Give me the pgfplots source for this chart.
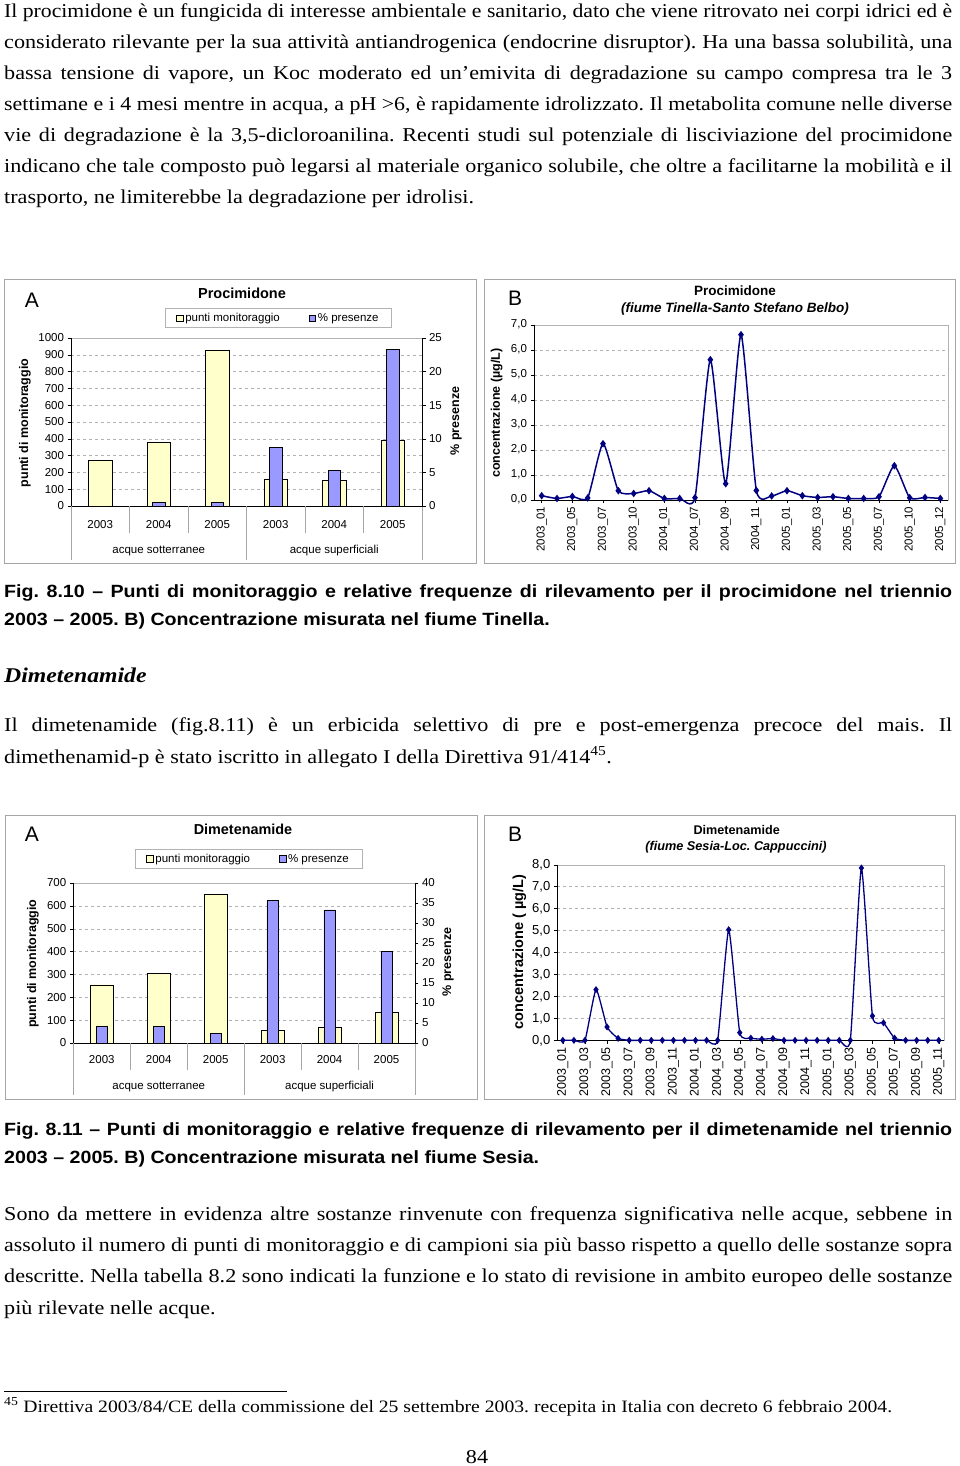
\documentclass[border=0pt]{standalone}
\usepackage{fontspec}
\setmainfont{Liberation Serif}
\setsansfont{Liberation Sans}
\renewcommand{\familydefault}{\sfdefault}
\newfontfamily\bodyfont{Liberation Serif}[FakeStretch=1.13]
\newfontfamily\capfont{Liberation Sans}[FakeStretch=1.11]
\usepackage{graphicx}
\usepackage{pgfplots}
\pgfplotsset{compat=1.18}

\definecolor{byellow}{HTML}{FFFFCC}
\definecolor{bblue}{HTML}{9999FF}
\definecolor{navy}{HTML}{000080}

\newcommand\fs[1]{\fontsize{#1}{#1}\selectfont}
\newsavebox\jbox
\newcommand\jline[1]{\sbox\jbox{#1}\ifdim\wd\jbox>948pt\resizebox{948pt}{\height}{\usebox\jbox}\else\makebox[948pt][s]{#1}\fi}

\pgfplotsset{
  chartbase/.style={scale only axis, clip=false, anchor=south west,
    tick align=outside, major tick length=3.5pt, tick style={black, thin},
    axis line style={gray!60},
    /pgf/number format/assume math mode=true, /pgf/number format/1000 sep={},
    grid style={dashed, gray!60}},
  sqlegend/.style={legend image code/.code={\draw[##1] (0pt,-3.3pt) rectangle (6.6pt,3.3pt);}},
}

\begin{document}
\frenchspacing
\begin{tikzpicture}
\useasboundingbox (0,0) rectangle (960pt,-1466pt);
\fill[white] (0,0) rectangle (960pt,-1466pt);

% ---------- paragraph 1
\begin{scope}[every node/.style={anchor=base west, inner sep=0pt}]
\node at (4pt,-17.3pt) {\bodyfont\fs{19.6}\jline{Il procimidone è un fungicida di interesse ambientale e sanitario, dato che viene ritrovato nei corpi idrici ed è}};
\node at (4pt,-48.3pt) {\bodyfont\fs{19.6}\jline{considerato rilevante per la sua attività antiandrogenica (endocrine disruptor). Ha una bassa solubilità, una}};
\node at (4pt,-79.3pt) {\bodyfont\fs{19.6}\jline{bassa tensione di vapore, un Koc moderato ed un’emivita di degradazione su campo compresa tra le 3}};
\node at (4pt,-110.3pt) {\bodyfont\fs{19.6}\jline{settimane e i 4 mesi mentre in acqua, a pH >6, è rapidamente idrolizzato. Il metabolita comune nelle diverse}};
\node at (4pt,-141.3pt) {\bodyfont\fs{19.6}\jline{vie di degradazione è la 3,5-dicloroanilina. Recenti studi sul potenziale di lisciviazione del procimidone}};
\node at (4pt,-172.3pt) {\bodyfont\fs{19.6}\jline{indicano che tale composto può legarsi al materiale organico solubile, che oltre a facilitarne la mobilità e il}};
\node at (4pt,-203.3pt) {\bodyfont\fs{19.6}trasporto, ne limiterebbe la degradazione per idrolisi.};

% caption 1
\node at (4pt,-597.7pt) {\capfont\bfseries\fs{17.7}\jline{Fig. 8.10 – Punti di monitoraggio e relative frequenze di rilevamento per il procimidone nel triennio}};
\node at (4pt,-625.7pt) {\capfont\bfseries\fs{17.7}2003 – 2005. B) Concentrazione misurata nel fiume Tinella.};

% heading
\node at (4pt,-682pt) {\bodyfont\bfseries\itshape\fs{21}Dimetenamide};

% paragraph 2
\node at (4pt,-731.7pt) {\bodyfont\fs{19.6}\jline{Il dimetenamide (fig.8.11) è un erbicida selettivo di pre e post-emergenza precoce del mais. Il}};
\node at (4pt,-763.3pt) {\bodyfont\fs{19.6}dimethenamid-p è stato iscritto in allegato I della Direttiva 91/414\textsuperscript{45}.};

% caption 2
\node at (4pt,-1135pt) {\capfont\bfseries\fs{17.7}\jline{Fig. 8.11 – Punti di monitoraggio e relative frequenze di rilevamento per il dimetenamide nel triennio}};
\node at (4pt,-1163.3pt) {\capfont\bfseries\fs{17.7}2003 – 2005. B) Concentrazione misurata nel fiume Sesia.};

% paragraph 3
\node at (4pt,-1220pt) {\bodyfont\fs{19.6}\jline{Sono da mettere in evidenza altre sostanze rinvenute con frequenza significativa nelle acque, sebbene in}};
\node at (4pt,-1251.4pt) {\bodyfont\fs{19.6}\jline{assoluto il numero di punti di monitoraggio e di campioni sia più basso rispetto a quello delle sostanze sopra}};
\node at (4pt,-1282.8pt) {\bodyfont\fs{19.6}\jline{descritte. Nella tabella 8.2 sono indicati la funzione e lo stato di revisione in ambito europeo delle sostanze}};
\node at (4pt,-1314pt) {\bodyfont\fs{19.6}più rilevate nelle acque.};

% footnote
\node at (4pt,-1412pt) {\bodyfont\fs{17.4}\textsuperscript{45} Direttiva 2003/84/CE della commissione del 25 settembre 2003. recepita in Italia con decreto 6 febbraio 2004.};
\end{scope}
\draw[line width=0.8pt] (4pt,-1391pt) -- (287pt,-1391pt);
\node[anchor=base, inner sep=0pt] at (477pt,-1463pt) {\bodyfont\fs{19.6}84};

% ---------- frames
\draw[gray!70, line width=0.8pt] (4pt,-279pt) rectangle (476pt,-563pt);
\draw[gray!70, line width=0.8pt] (484pt,-279pt) rectangle (955pt,-563pt);
\draw[gray!70, line width=0.8pt] (5pt,-815pt) rectangle (477pt,-1099pt);
\draw[gray!70, line width=0.8pt] (484pt,-815pt) rectangle (955pt,-1099pt);

% titles
\node at (32pt,-300pt) {\fs{21}A};
\node at (242pt,-293pt) {\bfseries\fs{14.5}Procimidone};
\node at (515pt,-298.7pt) {\fs{21}B};
\node at (735pt,-290.7pt) {\bfseries\fs{13.5}Procimidone};
\node at (735pt,-308.7pt) {\bfseries\itshape\fs{13.5}(fiume Tinella-Santo Stefano Belbo)};
\node at (32pt,-834.7pt) {\fs{21}A};
\node at (243pt,-829pt) {\bfseries\fs{14.4}Dimetenamide};
\node at (515pt,-834.7pt) {\fs{21}B};
\node at (736.7pt,-830.3pt) {\bfseries\fs{12.6}Dimetenamide};
\node at (736pt,-847.7pt) {\bfseries\itshape\fs{12.7}(fiume Sesia-Loc. Cappuccini)};

% ================= A1: procimidone bars
\begin{axis}[chartbase, at={(71pt,-506pt)}, width=351pt, height=168pt,
  xmin=-0.5, xmax=5.5, ymin=0, ymax=1000, ytick={0,100,...,1000}, ytick pos=left,
  ymajorgrids, xtick=\empty,
  yticklabel style={font=\fs{11.5}},
  ylabel={\bfseries punti di monitoraggio},
  ylabel style={at={(rel axis cs:-0.131,0.494)}, anchor=center, font=\fs{12.5}}]
\addplot[ybar, bar width=23.3pt, fill=byellow, draw=black] coordinates {(0,270) (1,379) (2,927) (3,161) (4,151) (5,391)};
\draw[black] (rel axis cs:0,1) -- (rel axis cs:0,0) -- (rel axis cs:1,0);
\draw[gray!70] (axis cs:-0.5,0) -- ++(0pt,-54pt);
\draw[gray!70] (axis cs:0.5,0) -- ++(0pt,-27pt);
\draw[gray!70] (axis cs:1.5,0) -- ++(0pt,-27pt);
\draw[gray!70] (axis cs:2.5,0) -- ++(0pt,-54pt);
\draw[gray!70] (axis cs:3.5,0) -- ++(0pt,-27pt);
\draw[gray!70] (axis cs:4.5,0) -- ++(0pt,-27pt);
\draw[gray!70] (axis cs:5.5,0) -- ++(0pt,-54pt);
\begin{scope}[every node/.style={font=\fs{11.5}, yshift=-18.7pt}]
\node at (axis cs:0,0) {2003};
\node at (axis cs:1,0) {2004};
\node at (axis cs:2,0) {2005};
\node at (axis cs:3,0) {2003};
\node at (axis cs:4,0) {2004};
\node at (axis cs:5,0) {2005};
\end{scope}
\node[font=\fs{11.5}] at (axis cs:1,0) [yshift=-44.7pt] {acque sotterranee};
\node[font=\fs{11.5}] at (axis cs:4,0) [yshift=-44.7pt] {acque superficiali};
\end{axis}
\begin{axis}[chartbase, at={(71pt,-506pt)}, width=351pt, height=168pt,
  xmin=-0.5, xmax=5.5, ymin=0, ymax=25, ytick={0,5,...,25},
  axis x line=none, axis y line*=right, axis line style={black},
  yticklabel style={font=\fs{11.5}},
  ylabel={\bfseries\% presenze},
  ylabel style={at={(rel axis cs:1.097,0.506)}, anchor=center, font=\fs{12.5}},
  legend columns=2, legend cell align=left,
  legend style={at={(0.591,1.119)}, anchor=center, draw=gray!60, font=\fs{11.5}, inner xsep=11pt, inner ysep=2.5pt,
    /tikz/every even column/.append style={column sep=27pt}}]
\addlegendimage{sqlegend, fill=byellow, draw=black}
\addlegendentry{punti monitoraggio}
\addplot[ybar, bar width=12.3pt, fill=bblue, draw=black, sqlegend] coordinates {(0,0) (1,0.5) (2,0.5) (3,8.73) (4,5.31) (5,23.3)};
\addlegendentry{\% presenze}
\end{axis}

% ================= A2: dimetenamide bars
\begin{axis}[chartbase, at={(73.3pt,-1043pt)}, width=341.7pt, height=160pt,
  xmin=-0.5, xmax=5.5, ymin=0, ymax=700, ytick={0,100,...,700}, ytick pos=left,
  ymajorgrids, xtick=\empty,
  yticklabel style={font=\fs{11.5}},
  ylabel={\bfseries punti di monitoraggio},
  ylabel style={at={(rel axis cs:-0.118,0.496)}, anchor=center, font=\fs{12.5}}]
\addplot[ybar, bar width=22.7pt, fill=byellow, draw=black] coordinates {(0,255) (1,305) (2,649) (3,54) (4,70) (5,133)};
\draw[black] (rel axis cs:0,1) -- (rel axis cs:0,0) -- (rel axis cs:1,0);
\draw[gray!70] (axis cs:-0.5,0) -- ++(0pt,-52pt);
\draw[gray!70] (axis cs:0.5,0) -- ++(0pt,-27pt);
\draw[gray!70] (axis cs:1.5,0) -- ++(0pt,-27pt);
\draw[gray!70] (axis cs:2.5,0) -- ++(0pt,-52pt);
\draw[gray!70] (axis cs:3.5,0) -- ++(0pt,-27pt);
\draw[gray!70] (axis cs:4.5,0) -- ++(0pt,-27pt);
\draw[gray!70] (axis cs:5.5,0) -- ++(0pt,-52pt);
\begin{scope}[every node/.style={font=\fs{11.5}, yshift=-17pt}]
\node at (axis cs:0,0) {2003};
\node at (axis cs:1,0) {2004};
\node at (axis cs:2,0) {2005};
\node at (axis cs:3,0) {2003};
\node at (axis cs:4,0) {2004};
\node at (axis cs:5,0) {2005};
\end{scope}
\node[font=\fs{11.5}] at (axis cs:1,0) [yshift=-44pt] {acque sotterranee};
\node[font=\fs{11.5}] at (axis cs:4,0) [yshift=-44pt] {acque superficiali};
\end{axis}
\begin{axis}[chartbase, at={(73.3pt,-1043pt)}, width=341.7pt, height=160pt,
  xmin=-0.5, xmax=5.5, ymin=0, ymax=40, ytick={0,5,...,40},
  axis x line=none, axis y line*=right, axis line style={black},
  yticklabel style={font=\fs{11.5}},
  ylabel={\bfseries\% presenze},
  ylabel style={at={(rel axis cs:1.097,0.506)}, anchor=center, font=\fs{12.5}},
  legend columns=2, legend cell align=left,
  legend style={at={(0.513,1.151)}, anchor=center, draw=gray!60, font=\fs{11.5}, inner xsep=11pt, inner ysep=2.5pt,
    /tikz/every even column/.append style={column sep=27pt}}]
\addlegendimage{sqlegend, fill=byellow, draw=black}
\addlegendentry{punti monitoraggio}
\addplot[ybar, bar width=11.3pt, fill=bblue, draw=black, sqlegend] coordinates {(0,4.25) (1,4.25) (2,2.33) (3,35.6) (4,33.3) (5,23.0)};
\addlegendentry{\% presenze}
\end{axis}

% ================= B1: procimidone line
\begin{axis}[chartbase, at={(534pt,-499.7pt)}, width=414pt, height=175pt,
  xmin=-0.5, xmax=26.5, ymin=0, ymax=7, ytick={0,...,7}, ytick pos=left,
  yticklabels={{0,0},{1,0},{2,0},{3,0},{4,0},{5,0},{6,0},{7,0}},
  ymajorgrids,
  xtick={0,2,...,26}, xtick pos=bottom,
  xticklabels={2003\_01,2003\_05,2003\_07,2003\_10,2004\_01,2004\_07,2004\_09,2004\_11,2005\_01,2005\_03,2005\_05,2005\_07,2005\_10,2005\_12},
  xticklabel style={rotate=90, anchor=east, font=\fs{11.5}},
  yticklabel style={font=\fs{11.5}},
  ylabel={\bfseries concentrazione (µg/L)},
  ylabel style={at={(rel axis cs:-0.090,0.495)}, anchor=center, font=\fs{12.5}}]
\draw[black] (rel axis cs:0,1) -- (rel axis cs:0,0) -- (rel axis cs:1,0);
\addplot[navy, line width=1.5pt, smooth, tension=0.35, mark=diamond*, mark size=2.6pt] coordinates {
(0,0.16) (1,0.05) (2,0.13) (3,0.07) (4,2.24) (5,0.36) (6,0.25) (7,0.36) (8,0.05) (9,0.05)
(10,0.08) (11,5.6) (12,0.64) (13,6.6) (14,0.37) (15,0.15) (16,0.36) (17,0.16) (18,0.09) (19,0.12)
(20,0.05) (21,0.05) (22,0.12) (23,1.36) (24,0.08) (25,0.09) (26,0.05)};
\end{axis}

% ================= B2: dimetenamide line
\begin{axis}[chartbase, at={(557.3pt,-1040.3pt)}, width=387pt, height=175.6pt,
  xmin=-0.5, xmax=34.5, ymin=0, ymax=8, ytick={0,...,8}, ytick pos=left,
  yticklabels={{0,0},{1,0},{2,0},{3,0},{4,0},{5,0},{6,0},{7,0},{8,0}},
  ymajorgrids,
  xtick={0,2,...,34}, xtick pos=bottom,
  xticklabels={2003\_01,2003\_03,2003\_05,2003\_07,2003\_09,2003\_11,2004\_01,2004\_03,2004\_05,2004\_07,2004\_09,2004\_11,2005\_01,2005\_03,2005\_05,2005\_07,2005\_09,2005\_11},
  xticklabel style={rotate=90, anchor=east, font=\fs{12.5}},
  yticklabel style={font=\fs{13}},
  ylabel={\bfseries concentrazione ( µg/L)},
  ylabel style={at={(rel axis cs:-0.098,0.503)}, anchor=center, font=\fs{14.5}}]
\draw[black] (rel axis cs:0,1) -- (rel axis cs:0,0) -- (rel axis cs:1,0);
\addplot[navy, line width=1.3pt, smooth, tension=0.3, mark=diamond*, mark size=2.5pt] coordinates {
(0,0) (1,0) (2,0) (3,2.31) (4,0.61) (5,0.09) (6,0) (7,0) (8,0) (9,0)
(10,0) (11,0) (12,0) (13,0) (14,0) (15,5.04) (16,0.35) (17,0.1) (18,0.05) (19,0.08)
(20,0) (21,0) (22,0) (23,0) (24,0) (25,0) (26,0) (27,7.85) (28,1.11) (29,0.8)
(30,0.1) (31,0) (32,0) (33,0) (34,0)};
\end{axis}
\end{tikzpicture}
\end{document}
